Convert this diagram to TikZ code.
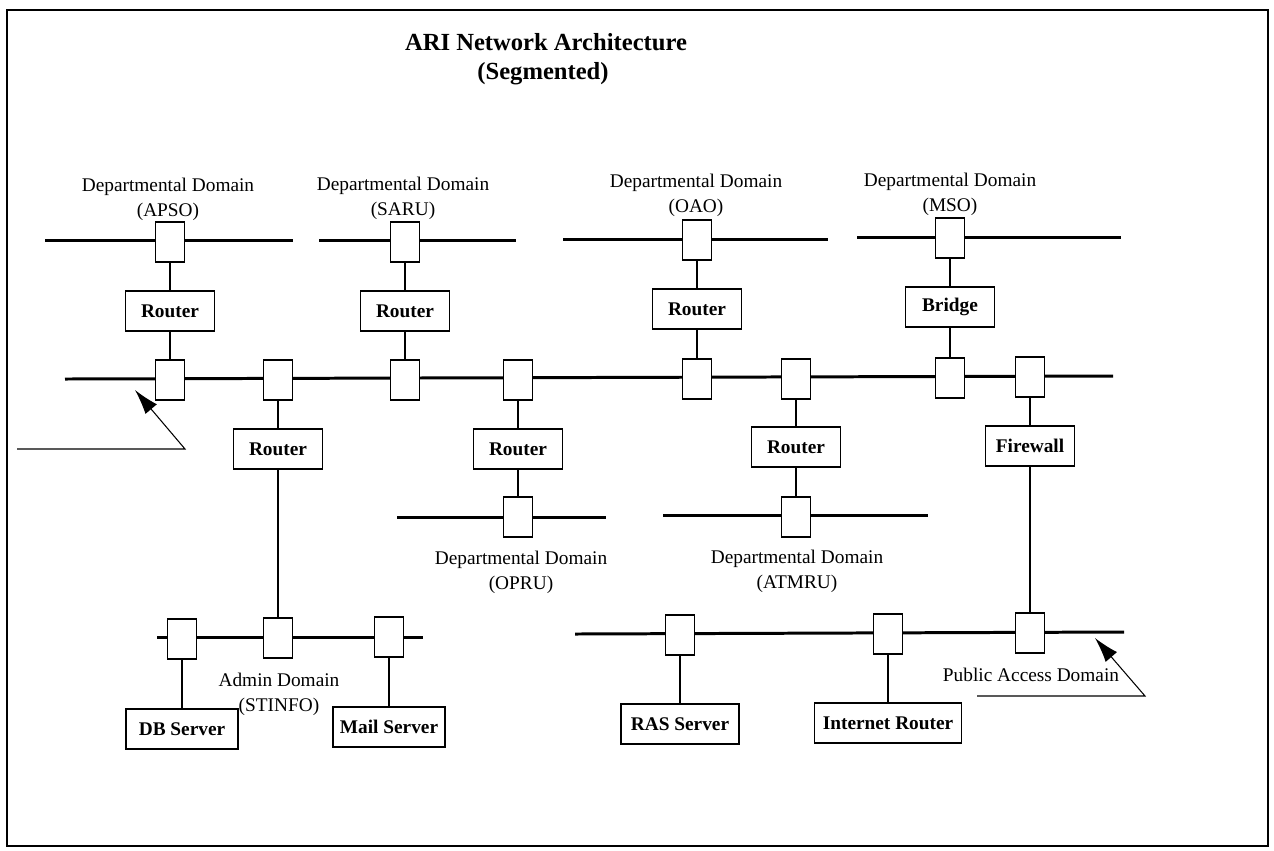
\documentclass[tikz,border=0pt]{standalone}
\usepackage{fontspec}
\setmainfont{Liberation Serif}
\usetikzlibrary{arrows.meta}

\begin{document}
\begin{tikzpicture}[x=0.02cm, y=-0.02cm, >={Latex[length=0.5cm,width=0.3cm]},
    seg/.style={line width=1.7pt},
    link/.style={line width=0.6pt},
    tap/.style={draw, line width=0.8pt, fill=white, minimum width=0.58cm, minimum height=0.8cm, inner sep=0pt},
    dev/.style={draw, line width=0.8pt, fill=white, minimum width=1.78cm, minimum height=0.8cm, inner sep=0pt, font=\fontsize{11}{13}\selectfont\bfseries},
    lbl/.style={align=center, inner sep=0pt, font=\fontsize{11}{14.2}\selectfont}]
        \useasboundingbox (0,0) rectangle (1274,850);
        % ==== FRAME ====
        \draw[line width=1.5pt] (7,10) rectangle (1268,846);
        % ==== TITLE ====
        \node (title) at (546,42) {\fontsize{14}{16}\selectfont\bfseries ARI Network Architecture};
        \node (subtitle) at (543,74) {\fontsize{14}{16}\selectfont\bfseries (Segmented)};

        % ==== SEGMENTS ====
        \draw[seg] (45,240) -- (293,240);     % APSO
        \draw[seg] (319,240) -- (516,240);    % SARU
        \draw[seg] (563,239) -- (828,239);    % OAO
        \draw[seg] (857,237) -- (1121,237);   % MSO
        \draw[seg] (65,379) -- (1113,376);    % backbone
        \draw[seg] (397,517) -- (606,517);    % OPRU
        \draw[seg] (663,515) -- (928,515);    % ATMRU
        \draw[seg] (157,637) -- (423,637);    % admin
        \draw[seg] (575,634) -- (1124,632);   % public access

        % ==== TAPS ====
        \node[tap] (tAPSO) at (170,242) {};
        \node[tap] (tSARU) at (405,242) {};
        \node[tap] (tOAO) at (697,240) {};
        \node[tap] (tMSO) at (950,238) {};
        \node[tap] (b1) at (170,380) {};
        \node[tap] (b2) at (278,380) {};
        \node[tap] (b3) at (405,380) {};
        \node[tap] (b4) at (518,380) {};
        \node[tap] (b5) at (697,379) {};
        \node[tap] (b6) at (796,379) {};
        \node[tap] (b7) at (950,378) {};
        \node[tap] (b8) at (1030,377) {};
        \node[tap] (tOPRU) at (518,517) {};
        \node[tap] (tATMRU) at (796,517) {};
        \node[tap] (tDB) at (182,639) {};
        \node[tap] (tAdmin) at (278,638) {};
        \node[tap] (tMail) at (389,637) {};
        \node[tap] (tRAS) at (680,635) {};
        \node[tap] (tIR) at (888,634) {};
        \node[tap] (tPub) at (1030,633) {};

        % ==== DEVICES ====
        \node[dev] (rAPSO) at (170,311) {Router};
        \node[dev] (rSARU) at (405,311) {Router};
        \node[dev] (rOAO) at (697,309) {Router};
        \node[dev] (bridge) at (950,307) {Bridge};
        \node[dev] (rAdmin) at (278,449) {Router};
        \node[dev] (rOPRU) at (518,449) {Router};
        \node[dev] (rATMRU) at (796,447) {Router};
        \node[dev] (firewall) at (1030,446) {Firewall};
        \node[dev, minimum width=2.24cm] (dbsrv) at (182,729) {DB Server};
        \node[dev, minimum width=2.24cm] (mailsrv) at (389,727) {Mail Server};
        \node[dev, minimum width=2.36cm] (rassrv) at (680,724) {RAS Server};
        \node[dev, minimum width=2.94cm] (inetrtr) at (888,723) {Internet Router};

        % ==== LINKS ====
        \draw[link] (tAPSO) -- (rAPSO);  \draw[link] (rAPSO) -- (b1);
        \draw[link] (tSARU) -- (rSARU);  \draw[link] (rSARU) -- (b3);
        \draw[link] (tOAO) -- (rOAO);    \draw[link] (rOAO) -- (b5);
        \draw[link] (tMSO) -- (bridge);  \draw[link] (bridge) -- (b7);
        \draw[link] (b2) -- (rAdmin);    \draw[link] (rAdmin) -- (tAdmin);
        \draw[link] (b4) -- (rOPRU);     \draw[link] (rOPRU) -- (tOPRU);
        \draw[link] (b6) -- (rATMRU);    \draw[link] (rATMRU) -- (tATMRU);
        \draw[link] (b8) -- (firewall);  \draw[link] (firewall) -- (tPub);
        \draw[link] (tDB) -- (dbsrv);
        \draw[link] (tMail) -- (mailsrv);
        \draw[link] (tRAS) -- (rassrv);
        \draw[link] (tIR) -- (inetrtr);

        % ==== DOMAIN LABELS ====
        \node[lbl] (lAPSO) at (168,199) {Departmental Domain\\(APSO)};
        \node[lbl] (lSARU) at (403,198) {Departmental Domain\\(SARU)};
        \node[lbl] (lOAO) at (696,195) {Departmental Domain\\(OAO)};
        \node[lbl] (lMSO) at (950,194) {Departmental Domain\\(MSO)};
        \node[lbl] (lOPRU) at (521,572) {Departmental Domain\\(OPRU)};
        \node[lbl] (lATMRU) at (797,571) {Departmental Domain\\(ATMRU)};
        \node[lbl] (lAdmin) at (279,694) {Admin Domain\\(STINFO)};
        \node[lbl] (lPub) at (1031,675) {Public Access Domain};

        % ==== POINTERS ====
        \coordinate (pL0) at (17,449);
        \coordinate (pL1) at (185,449);
        \coordinate (pLtip) at (135,390);
        \draw[link, ->] (pL0) -- (pL1) -- (pLtip);
        \coordinate (pR0) at (977,696);
        \coordinate (pR1) at (1145,696);
        \coordinate (pRtip) at (1095,638);
        \draw[link, ->] (pR0) -- (pR1) -- (pRtip);
\end{tikzpicture}
\end{document}
